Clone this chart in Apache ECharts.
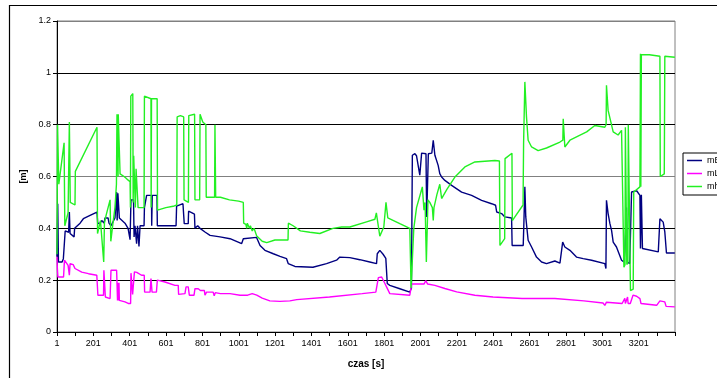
<!DOCTYPE html>
<html>
<head>
<meta charset="utf-8">
<script src="https://cdn.jsdelivr.net/npm/echarts@6/dist/echarts.min.js"></script>
<style>
  html, body { margin: 0; padding: 0; background: #fff; }
  #chart { width: 717px; height: 378px; }
</style>
</head>
<body>
<div id="chart"></div>
<script>
// Measured series: [time step, value in metres]
const mB = [
  [1,0.29],[5,0.495],[9,0.27],[29,0.27],[36,0.283],[45,0.28],[46,0.39],[65,0.385],[69,0.463],[73,0.38],
  [95,0.367],[98,0.40],[128,0.42],[146,0.437],[183,0.45],[221,0.463],[225,0.418],[238,0.42],[247,0.43],
  [260,0.42],[265,0.44],[282,0.44],[287,0.42],[298,0.41],[303,0.41],[320,0.44],[327,0.44],[329,0.54],
  [332,0.43],[336,0.535],[344,0.44],[348,0.44],[375,0.42],[392,0.40],[403,0.356],[408,0.51],[422,0.51],
  [425,0.367],[430,0.41],[439,0.341],[444,0.41],[452,0.33],[458,0.41],[480,0.41],[482,0.48],[494,0.527],
  [521,0.527],[522,0.41],[525,0.527],[551,0.527],[553,0.41],[656,0.41],[659,0.486],[694,0.495],[701,0.418],
  [723,0.418],[725,0.466],[744,0.46],[757,0.455],[760,0.40],[775,0.41],[788,0.40],[815,0.386],[843,0.373],
  [898,0.367],[953,0.36],[1017,0.341],[1026,0.36],[1099,0.365],[1118,0.334],[1145,0.315],[1191,0.302],
  [1228,0.292],[1264,0.283],[1273,0.264],[1310,0.253],[1409,0.25],[1484,0.264],[1539,0.277],[1557,0.289],
  [1612,0.287],[1667,0.279],[1722,0.27],[1759,0.264],[1763,0.302],[1777,0.315],[1795,0.30],[1810,0.284],
  [1818,0.187],[1832,0.18],[1887,0.167],[1942,0.154],[1951,0.17],[1956,0.682],[1970,0.688],[1979,0.68],
  [1997,0.605],[2003,0.60],[2007,0.69],[2031,0.688],[2035,0.444],[2044,0.688],[2063,0.69],[2071,0.74],
  [2080,0.682],[2098,0.643],[2107,0.611],[2117,0.598],[2135,0.585],[2172,0.566],[2227,0.54],[2282,0.527],
  [2337,0.508],[2392,0.495],[2414,0.489],[2420,0.463],[2447,0.457],[2465,0.444],[2502,0.44],[2505,0.334],
  [2566,0.334],[2570,0.43],[2575,0.56],[2580,0.444],[2593,0.354],[2612,0.328],[2639,0.289],[2667,0.27],
  [2694,0.264],[2740,0.274],[2768,0.266],[2779,0.266],[2783,0.347],[2795,0.328],[2823,0.315],[2859,0.289],
  [2896,0.283],[2942,0.277],[3015,0.264],[3021,0.245],[3024,0.508],[3033,0.457],[3043,0.418],[3052,0.392],
  [3061,0.347],[3079,0.328],[3107,0.277],[3120,0.27],[3125,0.31],[3134,0.48],[3139,0.27],[3152,0.264],
  [3161,0.26],[3162,0.54],[3171,0.547],[3190,0.545],[3208,0.527],[3211,0.322],[3216,0.53],[3222,0.322],
  [3226,0.32],[3309,0.309],[3318,0.437],[3336,0.424],[3345,0.386],[3351,0.386],[3354,0.305],[3400,0.305]
];

const mL = [
  [1,0.29],[3,0.245],[6,0.212],[37,0.212],[42,0.277],[51,0.27],[62,0.257],[68,0.257],[69,0.219],[73,0.264],
  [90,0.26],[100,0.245],[137,0.231],[174,0.225],[220,0.219],[226,0.142],[257,0.142],[259,0.238],[265,0.238],
  [267,0.135],[293,0.129],[298,0.238],[329,0.238],[334,0.122],[337,0.19],[339,0.122],[342,0.19],[344,0.122],
  [348,0.122],[375,0.116],[393,0.11],[406,0.11],[408,0.227],[415,0.227],[417,0.145],[425,0.145],[427,0.232],
  [440,0.23],[466,0.219],[481,0.219],[483,0.154],[513,0.154],[518,0.206],[522,0.206],[524,0.154],[548,0.154],
  [553,0.2],[595,0.193],[650,0.18],[668,0.18],[670,0.145],[705,0.148],[711,0.174],[723,0.174],[729,0.142],
  [755,0.142],[760,0.167],[778,0.167],[790,0.16],[812,0.16],[815,0.142],[822,0.142],[824,0.154],[860,0.154],
  [866,0.14],[872,0.152],[900,0.148],[953,0.148],[1008,0.142],[1050,0.142],[1075,0.148],[1100,0.142],
  [1130,0.131],[1172,0.12],[1227,0.118],[1282,0.12],[1320,0.125],[1500,0.135],[1680,0.148],[1755,0.154],
  [1766,0.155],[1769,0.21],[1787,0.212],[1805,0.187],[1814,0.174],[1832,0.148],[1942,0.142],[1952,0.185],
  [2020,0.185],[2030,0.198],[2040,0.185],[2080,0.18],[2135,0.168],[2200,0.155],[2300,0.142],[2400,0.135],
  [2560,0.129],[2740,0.129],[2900,0.12],[3005,0.112],[3015,0.103],[3024,0.115],[3110,0.11],[3125,0.13],
  [3128,0.11],[3140,0.135],[3143,0.11],[3155,0.11],[3170,0.142],[3190,0.138],[3208,0.129],[3214,0.11],
  [3300,0.103],[3318,0.12],[3345,0.116],[3352,0.099],[3400,0.097]
];

const mh = [
  [1,0.30],[4,0.80],[9,0.80],[11,0.57],[16,0.57],[40,0.73],[44,0.41],[62,0.46],[68,0.46],[69,0.81],
  [72,0.81],[74,0.50],[100,0.49],[102,0.62],[221,0.79],[224,0.38],[233,0.38],[240,0.43],[258,0.27],
  [262,0.42],[271,0.45],[293,0.51],[297,0.35],[309,0.42],[320,0.48],[328,0.57],[331,0.84],[336,0.84],
  [337,0.60],[338,0.84],[345,0.84],[348,0.61],[370,0.60],[386,0.59],[403,0.58],[405,0.48],[407,0.91],
  [418,0.92],[420,0.50],[423,0.68],[430,0.68],[432,0.48],[436,0.63],[445,0.63],[447,0.48],[480,0.48],
  [482,0.91],[518,0.90],[519,0.48],[521,0.90],[552,0.90],[554,0.47],[600,0.48],[640,0.485],[660,0.49],
  [662,0.83],[680,0.835],[698,0.83],[700,0.51],[724,0.50],[726,0.835],[758,0.84],[760,0.51],[786,0.51],
  [788,0.84],[803,0.81],[820,0.80],[822,0.52],[868,0.52],[870,0.80],[874,0.52],[900,0.52],[950,0.51],
  [1000,0.505],[1026,0.50],[1028,0.42],[1040,0.415],[1045,0.40],[1048,0.42],[1060,0.40],[1065,0.41],
  [1075,0.39],[1085,0.40],[1100,0.37],[1130,0.35],[1155,0.345],[1200,0.355],[1272,0.355],[1274,0.42],
  [1300,0.41],[1340,0.39],[1392,0.385],[1447,0.38],[1519,0.40],[1567,0.405],[1612,0.405],[1704,0.425],
  [1750,0.435],[1758,0.46],[1762,0.44],[1777,0.37],[1799,0.405],[1808,0.41],[1811,0.50],[1821,0.44],
  [1887,0.418],[1942,0.40],[1949,0.17],[1960,0.17],[1964,0.40],[1979,0.48],[2007,0.55],[2011,0.56],
  [2020,0.47],[2026,0.50],[2033,0.27],[2042,0.51],[2052,0.50],[2066,0.48],[2071,0.43],[2075,0.48],
  [2091,0.53],[2107,0.57],[2117,0.515],[2146,0.55],[2190,0.598],[2245,0.637],[2300,0.656],[2410,0.662],
  [2421,0.668],[2435,0.66],[2438,0.334],[2464,0.36],[2466,0.669],[2504,0.69],[2506,0.43],[2565,0.49],
  [2568,0.727],[2575,0.965],[2584,0.83],[2593,0.74],[2612,0.714],[2648,0.70],[2694,0.71],[2768,0.733],
  [2784,0.74],[2786,0.823],[2795,0.714],[2823,0.74],[2915,0.772],[2960,0.797],[3015,0.79],[3022,0.80],
  [3024,0.952],[3033,0.855],[3061,0.772],[3088,0.76],[3107,0.778],[3118,0.775],[3120,0.25],[3126,0.26],
  [3128,0.79],[3134,0.79],[3136,0.26],[3142,0.27],[3144,0.80],[3154,0.80],[3156,0.16],[3171,0.165],
  [3174,0.54],[3208,0.56],[3211,1.074],[3213,0.56],[3216,1.07],[3260,1.07],[3318,1.064],[3320,0.60],
  [3342,0.61],[3345,1.064],[3400,1.06]
];

const seriesNames = ['mB', 'mL', 'mh'];
const seriesColors = ['#000080', '#ff00ff', '#22f022'];
const seriesData = [mB, mL, mh];

const chart = echarts.init(document.getElementById('chart'), null, { renderer: 'canvas' });
const font = 'Arial, "Liberation Sans", sans-serif';

chart.setOption({
  animation: false,
  backgroundColor: '#fff',
  graphic: [{
    type: 'rect',
    shape: { x: 9.5, y: 5.5, width: 1000, height: 1000 },
    style: { fill: 'none', stroke: '#000', lineWidth: 1.2 },
    silent: true, z: 0
  }],
  grid: {
    left: 57, top: 21, right: 42, bottom: 46,
    show: true, borderColor: '#808080', borderWidth: 1, backgroundColor: 'transparent'
  },
  legend: {
    orient: 'vertical',
    left: 683, top: 153,
    padding: [3, 20, 4, 4],
    itemGap: 4,
    itemWidth: 15, itemHeight: 1.5,
    icon: 'rect',
    borderColor: '#000', borderWidth: 1,
    textStyle: { fontFamily: font, fontSize: 9, color: '#000' },
    data: seriesNames
  },
  xAxis: {
    type: 'value',
    min: 1, max: 3401, interval: 200,
    name: 'czas [s]', nameLocation: 'middle', nameGap: 27,
    nameTextStyle: { fontFamily: font, fontSize: 10, fontWeight: 'bold', color: '#000' },
    axisLine: { show: true, lineStyle: { color: '#000', width: 1 } },
    axisTick: { show: true, length: 4, lineStyle: { color: '#000' } },
    minorTick: { show: true, splitNumber: 2, length: 4, lineStyle: { color: '#000' } },
    axisLabel: {
      fontFamily: font, fontSize: 9, color: '#000', margin: 7, showMaxLabel: false,
      formatter: v => String(Math.round(v))
    },
    splitLine: { show: false }
  },
  yAxis: {
    type: 'value',
    min: 0, max: 1.2, interval: 0.2,
    name: '[m]', nameLocation: 'middle', nameGap: 28, nameRotate: 90,
    nameTextStyle: { fontFamily: font, fontSize: 9, fontWeight: 'bold', color: '#000' },
    axisLine: { show: true, lineStyle: { color: '#000', width: 1 } },
    axisTick: { show: true, length: 4, lineStyle: { color: '#000' } },
    axisLabel: { fontFamily: font, fontSize: 9, color: '#000', margin: 6 },
    splitLine: {
      show: true,
      lineStyle: { color: ['#000', '#000', '#000', '#808080', '#000', '#000', '#808080'], width: 1 }
    }
  },
  series: seriesNames.map((name, i) => ({
    name,
    type: 'line',
    data: seriesData[i],
    showSymbol: false,
    symbol: 'none',
    smooth: false,
    color: seriesColors[i],
    lineStyle: { color: seriesColors[i], width: 1.4 }
  }))
});
</script>
</body>
</html>
